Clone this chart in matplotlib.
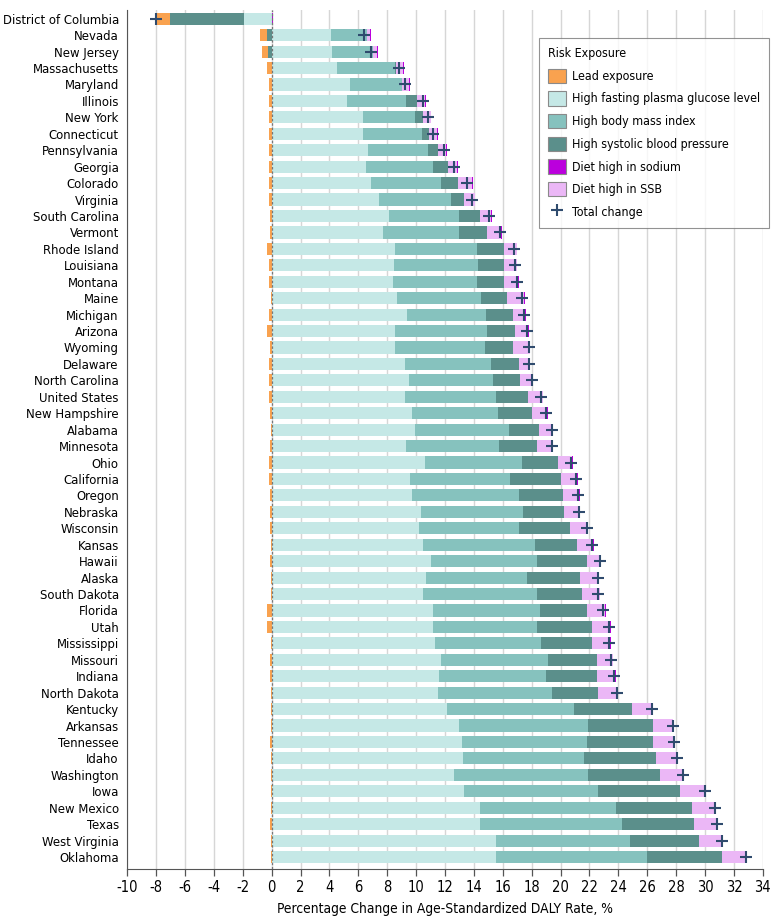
import numpy as np
import matplotlib
matplotlib.use("Agg")
import matplotlib.pyplot as plt
from matplotlib.patches import Patch
from matplotlib.lines import Line2D

plt.rcParams['font.family'] = ['DejaVu Sans']
plt.rcParams['font.stretch'] = 'condensed'

states = ["District of Columbia", "Nevada", "New Jersey", "Massachusetts", "Maryland",
          "Illinois", "New York", "Connecticut", "Pennsylvania", "Georgia", "Colorado",
          "Virginia", "South Carolina", "Vermont", "Rhode Island", "Louisiana", "Montana",
          "Maine", "Michigan", "Arizona", "Wyoming", "Delaware", "North Carolina",
          "United States", "New Hampshire", "Alabama", "Minnesota", "Ohio", "California",
          "Oregon", "Nebraska", "Wisconsin", "Kansas", "Hawaii", "Alaska", "South Dakota",
          "Florida", "Utah", "Mississippi", "Missouri", "Indiana", "North Dakota",
          "Kentucky", "Arkansas", "Tennessee", "Idaho", "Washington", "Iowa",
          "New Mexico", "Texas", "West Virginia", "Oklahoma"]

lead = [-0.9, -0.5, -0.45, -0.3, -0.2, -0.2, -0.15, -0.15, -0.15, -0.15, -0.2, -0.15,
        -0.1, -0.1, -0.3, -0.2, -0.15, -0.05, -0.2, -0.35, -0.1, -0.2, -0.15, -0.2,
        -0.1, -0.05, -0.1, -0.2, -0.2, -0.1, -0.1, -0.1, -0.05, -0.1, -0.03, -0.05,
        -0.3, -0.3, -0.05, -0.1, -0.1, -0.05, -0.05, -0.05, -0.1, -0.05, -0.05, -0.05,
        -0.05, -0.1, -0.02, -0.02]
glucose = [-1.93, 4.1, 4.2, 4.55, 5.45, 5.2, 6.35, 6.35, 6.7, 6.5, 6.9, 7.45, 8.1, 7.7,
           8.55, 8.5, 8.4, 8.7, 9.4, 8.55, 8.55, 9.2, 9.5, 9.25, 9.7, 9.95, 9.3, 10.65,
           9.55, 9.75, 10.35, 10.2, 10.5, 11.0, 10.7, 10.5, 11.2, 11.15, 11.3, 11.75,
           11.6, 11.5, 12.15, 13.0, 13.15, 13.25, 12.65, 13.35, 14.4, 14.4, 15.55, 15.55]
bmi = [0.0, 2.5, 2.85, 4.0, 3.55, 4.13, 3.6, 4.05, 4.15, 4.7, 4.85, 5.0, 4.9, 5.3, 5.65,
       5.8, 5.8, 5.8, 5.45, 6.35, 6.25, 6.0, 5.8, 6.25, 6.0, 6.45, 6.45, 6.65, 6.95,
       7.35, 7.05, 6.95, 7.7, 7.4, 7.0, 7.9, 7.4, 7.25, 7.35, 7.4, 7.4, 7.9, 8.8, 8.9,
       8.65, 8.4, 9.25, 9.25, 9.45, 9.85, 9.25, 10.45]
sbp = [-5.07, -0.3, -0.25, 0.05, 0.0, 0.75, 0.5, 0.5, 0.7, 1.0, 1.15, 0.9, 1.45, 1.9,
       1.9, 1.8, 1.9, 1.8, 1.85, 1.95, 1.9, 1.9, 1.9, 2.25, 2.35, 2.1, 2.65, 2.55, 3.5,
       3.1, 2.85, 3.5, 2.95, 3.45, 3.65, 3.1, 3.25, 3.8, 3.55, 3.35, 3.5, 3.2, 4.0, 4.5,
       4.6, 4.95, 5.0, 5.7, 5.25, 5.0, 4.8, 5.15]
sodium = [0.1, 0.08, 0.08, 0.08, 0.06, 0.06, 0.06, 0.06, 0.06, 0.06, 0.06, 0.06, 0.06,
          0.06, 0.06, 0.06, 0.06, 0.06, 0.06, 0.06, 0.06, 0.06, 0.06, 0.06, 0.06, 0.06,
          0.06, 0.06, 0.06, 0.06, 0.06, 0.06, 0.06, 0.06, 0.06, 0.06, 0.06, 0.06, 0.06,
          0.06, 0.06, 0.06, 0.05, 0.05, 0.05, 0.05, 0.05, 0.05, 0.05, 0.05, 0.03, 0.05]
ssb = [-0.1, 0.2, 0.22, 0.5, 0.5, 0.55, 0.55, 0.55, 0.55, 0.65, 0.95, 0.7, 0.75, 1.0,
       0.85, 0.85, 0.95, 1.2, 0.85, 0.9, 1.15, 0.75, 0.85, 1.0, 1.0, 0.95, 1.0, 0.95,
       1.15, 1.1, 1.05, 1.15, 1.1, 0.9, 1.25, 1.2, 1.2, 1.25, 1.2, 1.1, 1.25, 1.25, 1.4,
       1.35, 1.4, 1.45, 1.5, 1.65, 1.55, 1.6, 1.6, 1.65]
total = [-8.0, 6.4, 6.85, 8.85, 9.25, 10.45, 10.8, 11.2, 11.95, 12.65, 13.55, 13.9,
         15.05, 15.8, 16.8, 16.85, 17.0, 17.3, 17.45, 17.65, 17.8, 17.8, 18.0, 18.65,
         19.0, 19.4, 19.4, 20.7, 21.1, 21.2, 21.3, 21.85, 22.2, 22.7, 22.6, 22.6, 22.95,
         23.35, 23.35, 23.5, 23.7, 23.9, 26.3, 27.8, 27.85, 28.05, 28.45, 30.0, 30.7,
         30.85, 31.2, 32.85]

names = ["Lead exposure", "High fasting plasma glucose level", "High body mass index",
         "High systolic blood pressure", "Diet high in sodium", "Diet high in SSB"]
colors = {"Lead exposure": "#f9a24f",
          "High fasting plasma glucose level": "#c5e8e6",
          "High body mass index": "#86c2be",
          "High systolic blood pressure": "#5b8f8b",
          "Diet high in sodium": "#bb00dd",
          "Diet high in SSB": "#ebb7f6"}
series = {"Lead exposure": lead, "High fasting plasma glucose level": glucose,
          "High body mass index": bmi, "High systolic blood pressure": sbp,
          "Diet high in sodium": sodium, "Diet high in SSB": ssb}

# stacking order: positives outward from 0, negatives outward from 0
pos_order = ["High fasting plasma glucose level", "High body mass index",
             "High systolic blood pressure", "Diet high in SSB", "Diet high in sodium"]
neg_order = ["High fasting plasma glucose level", "High body mass index",
             "High systolic blood pressure", "Lead exposure", "Diet high in SSB",
             "Diet high in sodium"]

fig = plt.figure(figsize=(7.8, 9.24), dpi=100)
ax = fig.add_axes([0.163, 0.0595, 0.815, 0.93])

y = np.arange(len(states))
h = 0.74
pos_left = np.zeros(len(states))
neg_left = np.zeros(len(states))
for name in neg_order:
    v = np.array(series[name])
    neg = np.where(v < 0, v, 0)
    ax.barh(y, neg, left=neg_left, height=h, color=colors[name], zorder=3)
    neg_left += neg
for name in pos_order:
    v = np.array(series[name])
    pos = np.where(v > 0, v, 0)
    ax.barh(y, pos, left=pos_left, height=h, color=colors[name], zorder=3)
    pos_left += pos

ax.plot(total, y, linestyle='none', marker='+', markersize=9, markeredgewidth=1.5,
        color='#2f4b6e', zorder=5)

ax.axvline(0, color='#777777', linestyle=(0, (2, 1.5)), linewidth=0.9, zorder=4)

ax.set_xlim(-10, 34)
ax.set_ylim(len(states) - 0.27, -0.55)
ticks = np.arange(-10, 35, 2)
ax.set_xticks(ticks)
ax.set_xticklabels([str(t) for t in ticks], fontsize=10.5)
ax.set_yticks(y)
ax.set_yticklabels(states, fontsize=9.4)
ax.tick_params(axis='y', length=0, pad=6)
ax.tick_params(axis='x', length=5, width=0.9, color='#555555', pad=3)
ax.xaxis.grid(True, color='#d6d6d6', linewidth=1, zorder=0)
ax.set_axisbelow(True)
for s in ['top', 'right']:
    ax.spines[s].set_visible(False)
ax.spines['left'].set_color('#555555')
ax.spines['bottom'].set_color('#555555')
ax.set_xlabel("Percentage Change in Age-Standardized DALY Rate, %", fontsize=9.9,
              labelpad=5)

handles = [Patch(facecolor=colors[n], edgecolor='#8a8a8a', linewidth=0.8) for n in names]
handles.append(Line2D([], [], linestyle='none', marker='+', markersize=9,
                      markeredgewidth=1.5, color='#2f4b6e'))
leg = ax.legend(handles, names + ["Total change"], title="Risk Exposure",
                loc='upper right', bbox_to_anchor=(0.986, 0.959),
                bbox_transform=fig.transFigure, borderaxespad=0,
                fontsize=8.9, title_fontsize=8.9,
                frameon=True, fancybox=False, edgecolor='#777777',
                handlelength=1.4, handleheight=1.4, handletextpad=0.5,
                labelspacing=0.68, borderpad=0.75)
leg.get_frame().set_linewidth(0.8)
leg._legend_box.align = 'left'
leg.set_zorder(10)

fig.savefig("out.png", dpi=100, facecolor='white')
